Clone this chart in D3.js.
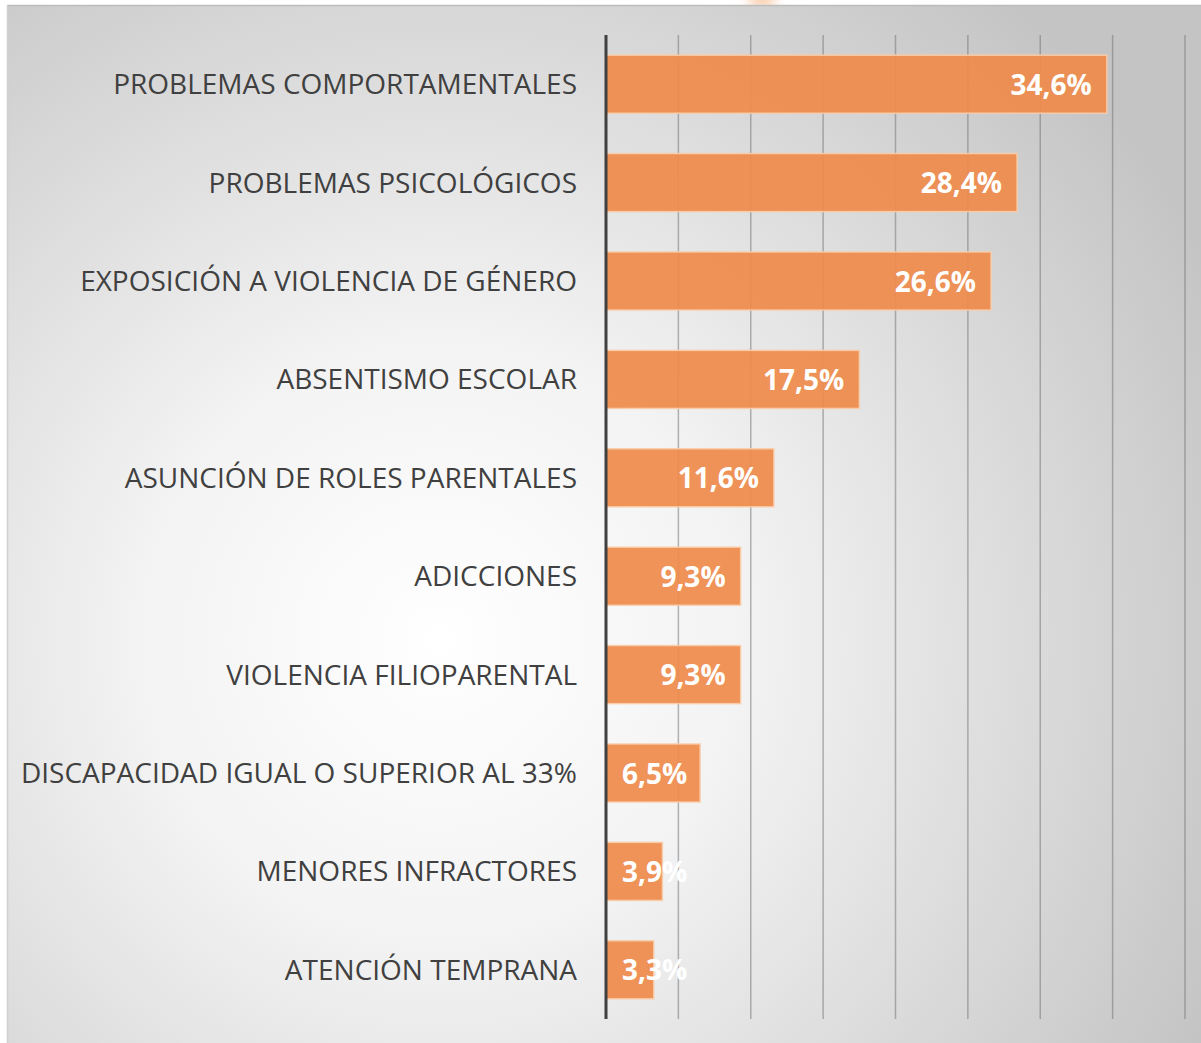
<!DOCTYPE html>
<html>
<head>
<meta charset="utf-8">
<script src="https://cdn.jsdelivr.net/npm/d3@7"></script>
<style>
  html, body { margin: 0; padding: 0; background: #ffffff; }
  svg { display: block; }
</style>
</head>
<body>
<svg id="chart" width="1201" height="1043"></svg>
<script>
const categories = [
  "PROBLEMAS COMPORTAMENTALES",
  "PROBLEMAS PSICOLÓGICOS",
  "EXPOSICIÓN A VIOLENCIA DE GÉNERO",
  "ABSENTISMO ESCOLAR",
  "ASUNCIÓN DE ROLES PARENTALES",
  "ADICCIONES",
  "VIOLENCIA FILIOPARENTAL",
  "DISCAPACIDAD IGUAL O SUPERIOR AL 33%",
  "MENORES INFRACTORES",
  "ATENCIÓN TEMPRANA"
];
const values = [34.6, 28.4, 26.6, 17.5, 11.6, 9.3, 9.3, 6.5, 3.9, 3.3];
const valueLabels = ["34,6%", "28,4%", "26,6%", "17,5%", "11,6%", "9,3%", "9,3%", "6,5%", "3,9%", "3,3%"];
const gridTicks = [0, 5, 10, 15, 20, 25, 30, 35, 40];

const svg = d3.select("#chart");
const W = 1201, H = 1043;

const defs = svg.append("defs");
const rg = defs.append("radialGradient")
  .attr("id", "bg")
  .attr("gradientUnits", "userSpaceOnUse")
  .attr("cx", 440).attr("cy", 640).attr("r", 860);
rg.append("stop").attr("offset", "0%").attr("stop-color", "#ffffff");
rg.append("stop").attr("offset", "35%").attr("stop-color", "#f3f3f3");
rg.append("stop").attr("offset", "100%").attr("stop-color", "#c4c4c4");

const blur = defs.append("filter").attr("id", "blur").attr("x", "-50%").attr("y", "-50%").attr("width", "200%").attr("height", "200%");
blur.append("feGaussianBlur").attr("stdDeviation", 6);

// faint orange glow above the frame
svg.append("ellipse").attr("cx", 762).attr("cy", 0).attr("rx", 14).attr("ry", 6)
  .attr("fill", "#f6b27e").attr("opacity", 0.8).attr("filter", "url(#blur)");

svg.append("rect")
  .attr("x", 7).attr("y", 5).attr("width", W - 7).attr("height", H - 5)
  .attr("fill", "url(#bg)");
svg.append("line").attr("x1", 7).attr("x2", W).attr("y1", 5.5).attr("y2", 5.5)
  .attr("stroke", "#bdbdbd").attr("stroke-width", 1.5);
svg.append("line").attr("x1", 7.5).attr("x2", 7.5).attr("y1", 5).attr("y2", H)
  .attr("stroke", "#d0d0d0").attr("stroke-width", 1.5);

const x = d3.scaleLinear().domain([0, 40]).range([606, 1185]);
const y = d3.scaleBand().domain(categories).range([35, 1019]).paddingInner(0.41).paddingOuter(0.205);

// gridlines
svg.append("g").selectAll("line").data(gridTicks.slice(1)).join("line")
  .attr("x1", d => x(d)).attr("x2", d => x(d))
  .attr("y1", 35).attr("y2", 1019)
  .attr("stroke", "rgba(120,120,120,0.55)").attr("stroke-width", 1.5);

// bars
svg.append("g").selectAll("rect").data(values).join("rect")
  .attr("x", x(0))
  .attr("y", (d, i) => y(categories[i]))
  .attr("width", d => x(d) - x(0))
  .attr("height", y.bandwidth())
  .attr("fill", "rgba(238,139,75,0.93)")
  .attr("stroke", "rgba(250,205,170,0.9)")
  .attr("stroke-width", 1.5);

// category axis
const yAxis = d3.axisLeft(y).tickSize(0).tickPadding(29);
const ag = svg.append("g").attr("transform", `translate(${x(0)},0)`).call(yAxis);
ag.select(".domain").attr("stroke", "#404040").attr("stroke-width", 3)
  .attr("d", "M0,35V1019");
ag.selectAll("text")
  .attr("font-family", "'Open Sans', sans-serif")
  .attr("font-size", 28)
  .attr("fill", "#404040")
  .attr("dy", "0.36em");

// value labels
const minStart = x(0) + 16;
svg.append("g").selectAll("text").data(values).join("text")
  .text((d, i) => valueLabels[i])
  .attr("font-family", "'Open Sans', sans-serif")
  .attr("font-weight", "bold")
  .attr("font-size", 28)
  .attr("fill", "#ffffff")
  .attr("text-anchor", "end")
  .attr("y", (d, i) => y(categories[i]) + y.bandwidth() / 2)
  .attr("dy", "0.38em")
  .each(function(d) {
    const w = this.getComputedTextLength();
    const endX = Math.max(x(d) - 15, minStart + w);
    d3.select(this).attr("x", endX);
  });
</script>
</body>
</html>
